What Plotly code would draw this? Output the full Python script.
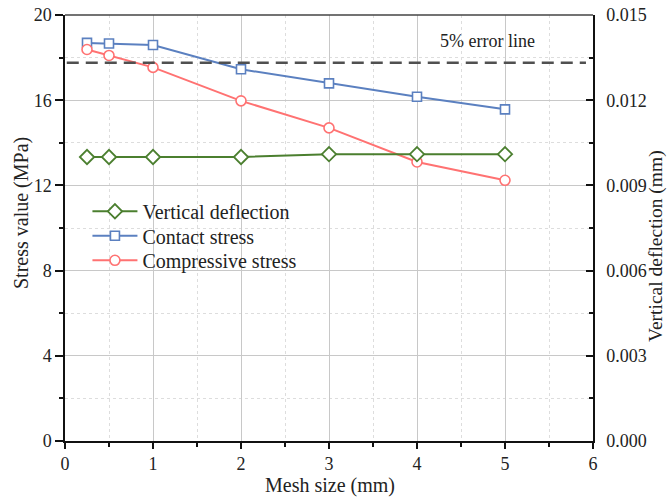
import plotly.graph_objects as go

# Mesh sizes (mm)
mesh_size = [0.25, 0.5, 1, 2, 3, 4, 5]

# Contact stress and compressive stress (MPa), left axis
contact_stress = [18.69, 18.66, 18.59, 17.45, 16.79, 16.16, 15.57]
compressive_stress = [18.38, 18.10, 17.54, 15.97, 14.70, 13.10, 12.24]

# Vertical deflection (mm), right axis
vertical_deflection = [0.0100, 0.0100, 0.0100, 0.0100, 0.0101, 0.0101, 0.0101]

# 5 % error threshold relative to the finest-mesh contact stress
error_line = 0.95 * contact_stress[0]

x_ticks = [0, 1, 2, 3, 4, 5, 6]
y_ticks = [0, 4, 8, 12, 16, 20]
y2_ticks = [0.000, 0.003, 0.006, 0.009, 0.012, 0.015]

FONT = "Liberation Serif"
TEXT = "#222222"
GREEN = "#4b7f2f"
BLUE = "#5b80c0"
RED = "#ff7272"

W, H = 667, 499
L, R, T, B = 65, 74, 15, 58
pw, ph = W - L - R, H - T - B


def px_to_paper(px, py):
    return (px - L) / pw, (H - B - py) / ph


fig = go.Figure()

fig.add_trace(go.Scatter(
    x=mesh_size, y=vertical_deflection, name="Vertical deflection",
    mode="lines+markers", yaxis="y2", legend="legend",
    line=dict(color=GREEN, width=2),
    marker=dict(symbol="diamond", size=11, color="white",
                line=dict(color=GREEN, width=1.8)),
))
fig.add_trace(go.Scatter(
    x=mesh_size, y=contact_stress, name="Contact stress",
    mode="lines+markers", legend="legend2",
    line=dict(color=BLUE, width=2),
    marker=dict(symbol="square", size=9, color="white",
                line=dict(color=BLUE, width=1.6)),
))
fig.add_trace(go.Scatter(
    x=mesh_size, y=compressive_stress, name="Compressive stress",
    mode="lines+markers", legend="legend3",
    line=dict(color=RED, width=2),
    marker=dict(symbol="circle", size=10, color="white",
                line=dict(color=RED, width=1.6)),
))

# Dashed 5 % error line
fig.add_shape(type="line", xref="x", yref="y", x0=0.02, x1=5.92,
              y0=error_line, y1=error_line,
              line=dict(color="#505050", width=2.5, dash="12px,7px"))

# Top frame
fig.add_shape(type="line", xref="paper", yref="paper", x0=0, x1=1, y0=1, y1=1,
              line=dict(color="#444444", width=1.5))

fig.add_annotation(x=4.8, y=18.8, xref="x", yref="y", text="5% error line",
                   showarrow=False, font=dict(family=FONT, size=18, color=TEXT))

# Axis titles
for text, (px, py), angle, size in [
    ("Mesh size (mm)", (330, 485), 0, 20),
    ("Stress value (MPa)", (21, 213), -90, 20),
    ("Vertical deflection (mm)", (656, 246), -90, 19.5),
]:
    xp, yp = px_to_paper(px, py)
    fig.add_annotation(x=xp, y=yp, xref="paper", yref="paper", text=text,
                       textangle=angle, showarrow=False,
                       xanchor="center", yanchor="middle",
                       font=dict(family=FONT, size=size, color=TEXT))

legend_style = dict(x=0.0425, xanchor="left", yanchor="top",
                    bgcolor="rgba(0,0,0,0)",
                    font=dict(family=FONT, size=20, color=TEXT),
                    itemwidth=45)
legend_top = 0.585
row_step = 24.5 / ph

grid_major = "#c8c8c8"
grid_minor = "#dddddd"

fig.update_layout(
    width=W, height=H,
    margin=dict(l=L, r=R, t=T, b=B),
    paper_bgcolor="white", plot_bgcolor="white",
    font=dict(family=FONT, size=18, color=TEXT),
    showlegend=True,
    legend=dict(y=legend_top, **legend_style),
    legend2=dict(y=legend_top - row_step, **legend_style),
    legend3=dict(y=legend_top - 2 * row_step, **legend_style),
    xaxis=dict(
        range=[0, 6], tickvals=x_ticks, ticktext=[str(v) for v in x_ticks],
        showline=True, linecolor="#111", linewidth=1.5,
        ticks="outside", ticklen=6, tickwidth=1.5, tickcolor="#111",
        showgrid=True, gridcolor=grid_major, gridwidth=1,
        zeroline=False,
        minor=dict(dtick=0.5, ticks="outside", ticklen=4, tickwidth=1.5, tickcolor="#111",
                   showgrid=True, gridcolor=grid_minor, griddash="dot", gridwidth=1),
        automargin=False,
    ),
    yaxis=dict(
        range=[0, 20], tickvals=y_ticks,
        showline=True, linecolor="#111", linewidth=1.5,
        ticks="outside", ticklen=8, tickwidth=1.5, tickcolor="#111",
        showgrid=True, gridcolor=grid_major, gridwidth=1,
        zeroline=False,
        minor=dict(dtick=2, ticks="outside", ticklen=4, tickwidth=1.5, tickcolor="#111",
                   showgrid=True, gridcolor=grid_minor, griddash="dot", gridwidth=1),
        automargin=False,
    ),
    yaxis2=dict(
        range=[0, 0.015], tickvals=y2_ticks, ticktext=[f"{v:.3f}" for v in y2_ticks],
        overlaying="y", side="right",
        showline=True, linecolor="#111", linewidth=1.5,
        ticks="inside", ticklen=7, tickwidth=1.5, tickcolor="#111",
        showgrid=False, zeroline=False,
        minor=dict(dtick=0.0015, ticks="inside", ticklen=4, tickwidth=1.5, tickcolor="#111"),
        ticklabelstandoff=8,
        automargin=False,
    ),
)

fig.write_html("out.html")
